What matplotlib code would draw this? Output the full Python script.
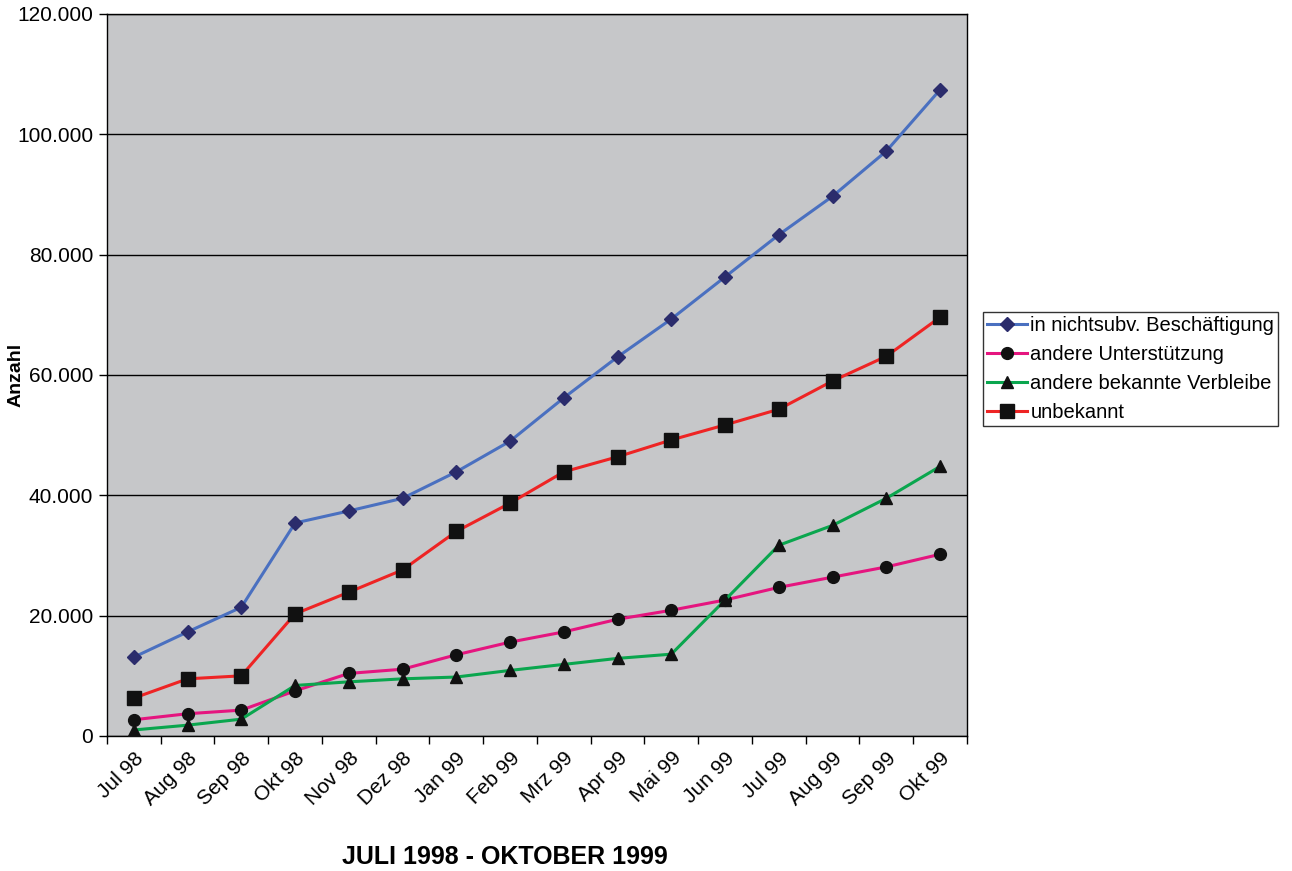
import matplotlib
matplotlib.use("Agg")
from matplotlib import pyplot as plt
from matplotlib.ticker import FuncFormatter
import numpy as np

plt.rcParams["font.family"] = ["Liberation Sans", "DejaVu Sans"]

months = ["Jul 98", "Aug 98", "Sep 98", "Okt 98", "Nov 98", "Dez 98", "Jan 99", "Feb 99",
          "Mrz 99", "Apr 99", "Mai 99", "Jun 99", "Jul 99", "Aug 99", "Sep 99", "Okt 99"]

beschaeftigung = [13100, 17300, 21400, 35400, 37400, 39500, 43900, 49000,
                  56200, 63000, 69300, 76300, 83300, 89700, 97200, 107400]
unterstuetzung = [2700, 3700, 4300, 7500, 10400, 11100, 13500, 15600,
                  17300, 19400, 20900, 22600, 24700, 26400, 28100, 30200]
verbleibe = [1000, 1800, 2800, 8400, 9000, 9500, 9800, 10900,
             11900, 12900, 13600, 22600, 31700, 35000, 39500, 44800]
unbekannt = [6300, 9500, 10000, 20300, 23900, 27600, 34000, 38700,
             43900, 46400, 49200, 51700, 54300, 59000, 63100, 69600]

x = np.arange(len(months))

fig = plt.figure(figsize=(12.92, 8.71), dpi=100)
ax = fig.add_axes([0.0828, 0.155, 0.6656, 0.829])
ax.set_facecolor("#C6C7C9")

ax.plot(x, beschaeftigung, color="#4A70C0", lw=2.2, marker="D", ms=7.5,
        mfc="#2B2C6C", mec="#2B2C6C", label="in nichtsubv. Beschäftigung", zorder=3)
ax.plot(x, unterstuetzung, color="#E5157F", lw=2.2, marker="o", ms=8.5,
        mfc="#111111", mec="#111111", label="andere Unterstützung", zorder=3)
ax.plot(x, verbleibe, color="#0AA64E", lw=2.2, marker="^", ms=8.5,
        mfc="#111111", mec="#111111", label="andere bekannte Verbleibe", zorder=3)
ax.plot(x, unbekannt, color="#EE2424", lw=2.2, marker="s", ms=9.5,
        mfc="#111111", mec="#111111", label="unbekannt", zorder=3)

ax.set_xlim(-0.5, len(months) - 0.5)
ax.set_ylim(0, 120000)
ax.set_yticks(np.arange(0, 120001, 20000))
ax.yaxis.set_major_formatter(FuncFormatter(lambda v, p: f"{int(v):,}".replace(",", ".")))
ax.grid(axis="y", color="black", lw=1)
ax.set_axisbelow(True)

ax.set_xticks(x)
ax.set_xticklabels(months, rotation=45, ha="right", rotation_mode="anchor")
ax.set_xticks(np.arange(-0.5, len(months)), minor=True)
ax.tick_params(axis="x", which="major", length=0, pad=9, labelsize=15)
ax.tick_params(axis="x", which="minor", length=6, width=1)
ax.tick_params(axis="y", length=6, width=1, labelsize=15, pad=4)
for s in ax.spines.values():
    s.set_linewidth(1)

ax.set_xlabel("JULI 1998 - OKTOBER 1999", fontsize=18, fontweight="bold", va="center")
ax.xaxis.set_label_coords(0.463, -0.168)
ax.set_ylabel("Anzahl", fontsize=14, fontweight="bold", va="center")
ax.yaxis.set_label_coords(-0.106, 0.5)

leg = ax.legend(loc="center left", bbox_to_anchor=(1.0186, 0.508), fontsize=14.5,
                frameon=True, fancybox=False, edgecolor="black", borderpad=0.2,
                handlelength=2.0, handletextpad=0.15, labelspacing=0.5, borderaxespad=0)
leg.get_frame().set_linewidth(1)

fig.savefig("out.png", dpi=100)
